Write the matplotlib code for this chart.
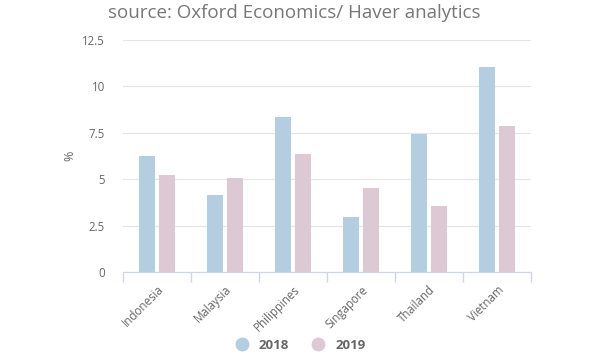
import matplotlib.pyplot as plt
import numpy as np
from matplotlib.lines import Line2D

plt.rcParams["font.family"] = ["Open Sans", "DejaVu Sans"]

countries = ["Indonesia", "Malaysia", "Philippines", "Singapore", "Thailand", "Vietnam"]
vals_2018 = [6.25, 4.15, 8.35, 2.96, 7.44, 11.05]
vals_2019 = [5.23, 5.06, 6.36, 4.53, 3.56, 7.87]
years = ["2018", "2019"]
colors = ["#b2cee0", "#ddc9d3"]

fig = plt.figure(figsize=(6, 3.6), dpi=100)
ax = fig.add_axes([0.205, 0.2444, 0.68, 0.6445])

x = np.arange(len(countries))
w = 0.235
ax.bar(x - 0.147, vals_2018, w, color=colors[0], zorder=3)
ax.bar(x + 0.147, vals_2019, w, color=colors[1], zorder=3)

ax.set_xlim(-0.5, len(countries) - 0.5)
ax.set_ylim(0, 12.5)
ax.set_yticks([0, 2.5, 5, 7.5, 10, 12.5])
ax.set_yticklabels(["0", "2.5", "5", "7.5", "10", "12.5"])
ax.yaxis.grid(True, color="#e6e6e6", linewidth=0.9, zorder=0)
ax.tick_params(axis="y", length=0, labelsize=8.3, colors="#666666", pad=13)

# category boundary ticks
ax.set_xticks(np.arange(-0.5, len(countries), 1.0))
ax.set_xticklabels([])
ax.set_xticks(x, minor=True)
ax.set_xticklabels(countries, minor=True, rotation=45, ha="right",
                   rotation_mode="anchor", fontsize=8.3, color="#666666")
ax.tick_params(axis="x", which="major", length=7, color="#ccd6eb", width=1)
ax.tick_params(axis="x", which="minor", length=0, pad=8)

for s in ["top", "right", "left"]:
    ax.spines[s].set_visible(False)
ax.spines["bottom"].set_color("#ccd6eb")

ax.set_ylabel("%", fontsize=9, color="#666666", labelpad=4)

fig.text(0.49, 0.965, "source: Oxford Economics/ Haver analytics",
         ha="center", va="center", fontsize=13.5, color="#777777")

handles = [Line2D([], [], marker="o", linestyle="", markersize=9,
                  markerfacecolor=c, markeredgecolor=c) for c in colors]
leg = fig.legend(handles, years, loc="center", bbox_to_anchor=(0.495, 0.04),
                 ncol=2, frameon=False, handletextpad=0.3, columnspacing=1.2,
                 prop={"weight": "bold", "size": 9.5})
for t in leg.get_texts():
    t.set_color("#666666")

fig.savefig("out.png", dpi=100)
